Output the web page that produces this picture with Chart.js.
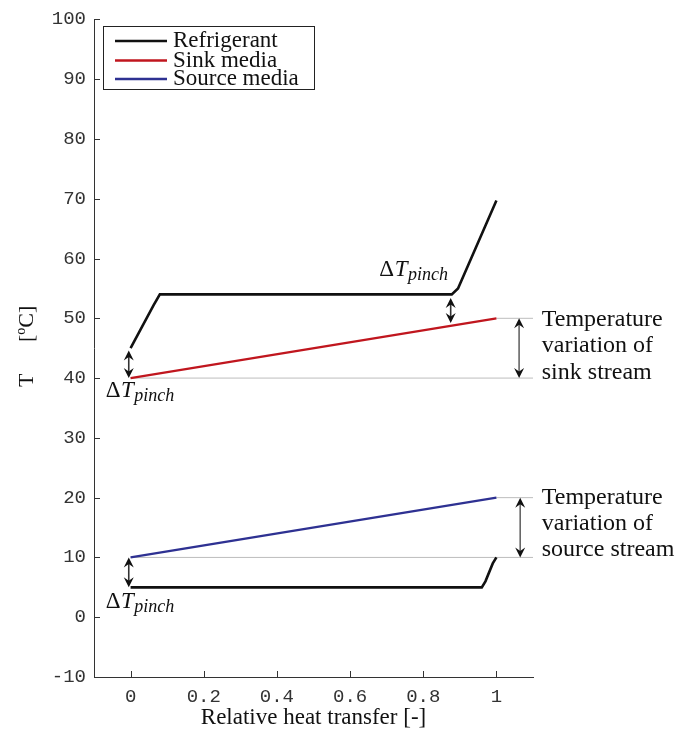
<!DOCTYPE html>
<html>
<head>
<meta charset="utf-8">
<script src="https://cdn.jsdelivr.net/npm/chart.js@4/dist/chart.umd.min.js"></script>
<style>
html,body{margin:0;padding:0;background:#fff;}
canvas{display:block;}
</style>
</head>
<body>
<canvas id="c" width="688" height="730"></canvas>
<script>
// ---- data ----
const seriesNames = ["Refrigerant", "Sink media", "Source media"];
const refrigerantSinkX = [0, 0.063, 0.08, 0.878, 0.895, 1];
const refrigerantSinkT = [45, 52.2, 54, 54, 55, 69.7];
const refrigerantSourceX = [0, 0.96, 0.97, 0.99, 1];
const refrigerantSourceT = [5, 5, 6, 9, 10];
const sinkX = [0, 1];
const sinkT = [40, 50];
const sourceX = [0, 1];
const sourceT = [10, 20];
const refLineLevels = [40, 50, 10, 20];
const refLineStartX = [0, 1, 0, 1];
const refLineEndX = 1.1;
const xTickValues = [0, 0.2, 0.4, 0.6, 0.8, 1];
const xTickLabels = ["0", "0.2", "0.4", "0.6", "0.8", "1"];
const yTickValues = [-10, 0, 10, 20, 30, 40, 50, 60, 70, 80, 90, 100];
const yTickLabels = ["-10", "0", "10", "20", "30", "40", "50", "60", "70", "80", "90", "100"];
// arrows: [x, from T, to T]
const arrowX = [-0.005, 0.875, 1.062, -0.005, 1.065];
const arrowFrom = [44.6, 53.4, 50, 10, 20];
const arrowTo = [40, 49.2, 40, 5, 10];

const pts = (xs, ys) => xs.map((x, i) => ({x: x, y: ys[i]}));

const SERIF = '"Liberation Serif", "DejaVu Serif", serif';
const MONO = '"Liberation Mono", "DejaVu Sans Mono", monospace';
const colBlack = '#111111';
const colRed = '#c0161e';
const colBlue = '#2e3192';
const colGray = '#bdbdbd';

const datasets = [];
refLineLevels.forEach((lv, i) => {
  datasets.push({
    label: 'ref' + i,
    data: pts([refLineStartX[i], refLineEndX], [lv, lv]),
    borderColor: colGray, borderWidth: 1, pointRadius: 0, order: 10
  });
});
datasets.push({label: seriesNames[0], data: pts(refrigerantSinkX, refrigerantSinkT), borderColor: colBlack, borderWidth: 2.6, pointRadius: 0, legendIdx: 0});
datasets.push({label: seriesNames[0], data: pts(refrigerantSourceX, refrigerantSourceT), borderColor: colBlack, borderWidth: 2.6, pointRadius: 0});
datasets.push({label: seriesNames[1], data: pts(sinkX, sinkT), borderColor: colRed, borderWidth: 2.3, pointRadius: 0, legendIdx: 1});
datasets.push({label: seriesNames[2], data: pts(sourceX, sourceT), borderColor: colBlue, borderWidth: 2.3, pointRadius: 0, legendIdx: 2});

function drawArrow(ctx, x, y1, y2, shaft) {
  const dir = y2 > y1 ? 1 : -1;
  const hl = 10, hw = 5;
  ctx.save();
  ctx.strokeStyle = shaft; ctx.lineWidth = 1.6;
  ctx.beginPath(); ctx.moveTo(x, y1 + dir * hl * 0.6); ctx.lineTo(x, y2 - dir * hl * 0.6); ctx.stroke();
  ctx.fillStyle = '#111';
  ctx.beginPath(); ctx.moveTo(x, y1); ctx.lineTo(x - hw, y1 + dir * hl); ctx.lineTo(x, y1 + dir * hl * 0.65); ctx.lineTo(x + hw, y1 + dir * hl); ctx.closePath(); ctx.fill();
  ctx.beginPath(); ctx.moveTo(x, y2); ctx.lineTo(x - hw, y2 - dir * hl); ctx.lineTo(x, y2 - dir * hl * 0.65); ctx.lineTo(x + hw, y2 - dir * hl); ctx.closePath(); ctx.fill();
  ctx.restore();
}

function drawPinch(ctx, x, y) {
  ctx.save();
  ctx.fillStyle = '#111';
  ctx.textBaseline = 'alphabetic'; ctx.textAlign = 'left';
  ctx.font = '23px ' + SERIF;
  ctx.fillText('\u0394', x, y);
  let w = ctx.measureText('\u0394').width + 0.5;
  ctx.font = 'italic 23px ' + SERIF;
  ctx.fillText('T', x + w, y);
  w += ctx.measureText('T').width + 0.5;
  ctx.font = 'italic 18px ' + SERIF;
  ctx.fillText('pinch', x + w, y + 4);
  ctx.restore();
}

const annotPlugin = {
  id: 'annot',
  afterDatasetsDraw(chart) {
    const ctx = chart.ctx, xs = chart.scales.x, ys = chart.scales.y;
    const ca = chart.chartArea;
    // inward ticks
    ctx.save();
    ctx.strokeStyle = '#333'; ctx.lineWidth = 1;
    xs.ticks.forEach(t => {
      const px = Math.round(xs.getPixelForValue(t.value)) + 0.5;
      ctx.beginPath(); ctx.moveTo(px, ca.bottom); ctx.lineTo(px, ca.bottom - 6); ctx.stroke();
    });
    ys.ticks.forEach(t => {
      const py = Math.round(ys.getPixelForValue(t.value)) + 0.5;
      ctx.beginPath(); ctx.moveTo(ca.left, py); ctx.lineTo(ca.left + 6, py); ctx.stroke();
    });
    ctx.restore();
    // arrows
    arrowX.forEach((ax, i) => {
      const shaft = (i === 2 || i === 4) ? '#666' : '#333';
      drawArrow(ctx, xs.getPixelForValue(ax), ys.getPixelForValue(arrowFrom[i]), ys.getPixelForValue(arrowTo[i]), shaft);
    });
    // pinch labels
    drawPinch(ctx, xs.getPixelForValue(-0.068), ys.getPixelForValue(36.8));
    drawPinch(ctx, xs.getPixelForValue(0.68), ys.getPixelForValue(57));
    drawPinch(ctx, xs.getPixelForValue(-0.068), ys.getPixelForValue(1.6));
    // right texts
    ctx.save();
    ctx.fillStyle = '#111'; ctx.font = '24px ' + SERIF; ctx.textAlign = 'left'; ctx.textBaseline = 'alphabetic';
    const tx = xs.getPixelForValue(1.124);
    const blocks = [[48.7, ['Temperature', 'variation of', 'sink stream']], [19.0, ['Temperature', 'variation of', 'source stream']]];
    blocks.forEach(b => {
      const y0 = ys.getPixelForValue(b[0]);
      b[1].forEach((s, k) => ctx.fillText(s, tx, y0 + k * 26.3));
    });
    ctx.restore();
    // legend
    ctx.save();
    const lx = 103.5, ly = 26.5, lw = 211, lh = 63;
    ctx.fillStyle = '#fff'; ctx.fillRect(lx, ly, lw, lh);
    ctx.strokeStyle = '#222'; ctx.lineWidth = 1; ctx.strokeRect(lx, ly, lw, lh);
    ctx.font = '23px ' + SERIF; ctx.textBaseline = 'alphabetic'; ctx.textAlign = 'left';
    const rows = [41, 60.5, 79];
    chart.data.datasets.filter(d => d.legendIdx !== undefined).forEach(d => {
      const r = rows[d.legendIdx];
      ctx.strokeStyle = d.borderColor; ctx.lineWidth = 2.4;
      ctx.beginPath(); ctx.moveTo(115, r); ctx.lineTo(167, r); ctx.stroke();
      ctx.fillStyle = '#111';
      ctx.fillText(d.label, 173, r + 6);
    });
    ctx.restore();
    // y title
    ctx.save();
    ctx.translate(33, 387); ctx.rotate(-Math.PI / 2);
    ctx.fillStyle = '#111'; ctx.textBaseline = 'alphabetic'; ctx.textAlign = 'left';
    ctx.font = '22px ' + SERIF;
    ctx.fillText('T', 0, 0);
    let ox = 45;
    ctx.fillText('[', ox, 0); ox += ctx.measureText('[').width;
    ctx.font = '14px ' + SERIF;
    ctx.fillText('o', ox, -8); ox += ctx.measureText('o').width;
    ctx.font = '22px ' + SERIF;
    ctx.fillText('C]', ox, 0);
    ctx.restore();
  }
};

new Chart(document.getElementById('c'), {
  type: 'line',
  data: {datasets: datasets},
  options: {
    responsive: false,
    animation: false,
    devicePixelRatio: 1,
    layout: {padding: {top: 16, right: 155, left: 0, bottom: 0}},
    plugins: {legend: {display: false}, tooltip: {enabled: false}},
    elements: {line: {tension: 0}},
    scales: {
      x: {
        type: 'linear', min: -0.1, max: 1.1,
        afterBuildTicks: s => { s.ticks = xTickValues.map(v => ({value: v})); },
        afterFit: s => { s.height = 53; },
        grid: {display: false, drawTicks: false},
        border: {display: true, color: '#333', width: 1},
        ticks: {
          font: {family: MONO, size: 19}, color: '#333', padding: 9, maxRotation: 0,
          callback: (v) => { const i = xTickValues.indexOf(v); return i >= 0 ? xTickLabels[i] : ''; }
        },
        title: {display: true, text: 'Relative heat transfer [-]', font: {family: SERIF, size: 23}, color: '#111', padding: {top: 0, bottom: -2}}
      },
      y: {
        type: 'linear', min: -10, max: 100,
        afterBuildTicks: s => { s.ticks = yTickValues.map(v => ({value: v})); },
        afterFit: s => { s.width = 94; },
        grid: {display: false, drawTicks: false},
        border: {display: true, color: '#333', width: 1},
        ticks: {
          font: {family: MONO, size: 19}, color: '#333', padding: 8,
          callback: (v) => { const i = yTickValues.indexOf(v); return i >= 0 ? yTickLabels[i] : ''; }
        }
      }
    }
  },
  plugins: [annotPlugin]
});
</script>
</body>
</html>
